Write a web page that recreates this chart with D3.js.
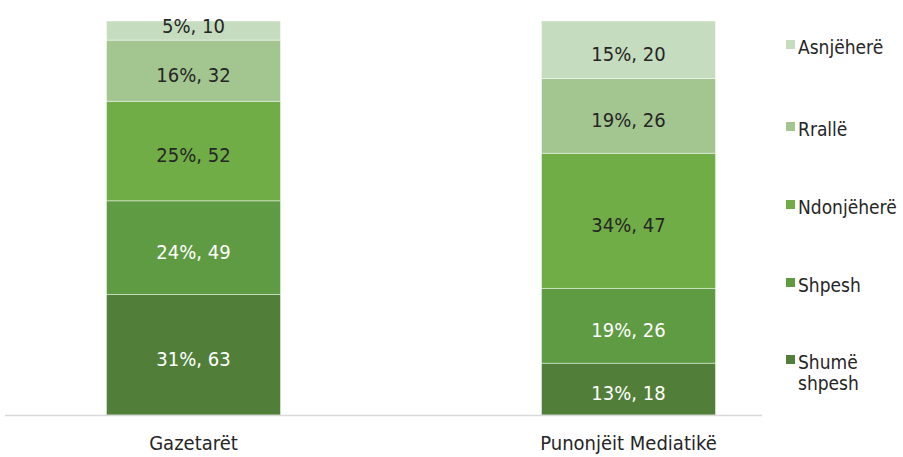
<!DOCTYPE html>
<head>
  <meta charset="utf-8">
  <style>
  body { margin: 0; background: #fff; }
  text {
    font-family: 'DejaVu Sans Condensed', 'DejaVu Sans', sans-serif;
  }
  </style>
</head>
<body>
  <svg id="chart"></svg>
  <script src="https://d3js.org/d3.v7.min.js"></script>
  <script>

  var width = 903,
      height = 457;

  // Data
  var groups = ['Gazetarët', 'Punonjëit Mediatikë'];
  var series = ['Shumë shpesh', 'Shpesh', 'Ndonjëherë', 'Rrallë', 'Asnjëherë'];
  var shumeShpesh = [63, 18];
  var shpesh = [49, 26];
  var ndonjehere = [52, 47];
  var ralle = [32, 26];
  var asnjehere = [10, 20];
  var percents = [
    ['31%', '13%'],
    ['24%', '19%'],
    ['25%', '34%'],
    ['16%', '19%'],
    ['5%', '15%']
  ];

  var values = [shumeShpesh, shpesh, ndonjehere, ralle, asnjehere];
  var colors = ['#517f39', '#5f9b42', '#70ad47', '#a3c590', '#c5dcbe'];
  var textColors = ['#fff', '#fff', '#262626', '#262626', '#262626'];

  // build table for the stack
  var table = groups.map(function(g, i) {
    var row = { group: g, total: 0 };
    series.forEach(function(s, j) {
      row[s] = values[j][i];
      row.total += values[j][i];
    });
    return row;
  });

  // normalise each bar to 100%
  var norm = table.map(function(r) {
    var o = { group: r.group };
    series.forEach(function(s) { o[s] = r[s] / r.total; });
    return o;
  });

  var stacked = d3.stack().keys(series)(norm);

  var x = d3.scaleBand()
    .domain(groups)
    .range([-24, 846])
    .paddingInner(0.6)
    .paddingOuter(0.3);

  var y = d3.scaleLinear()
    .domain([0, 1])
    .range([415, 21]);

  var svg = d3.select('#chart')
    .attr('width', width)
    .attr('height', height);

  var layer = svg.selectAll('.layer')
    .data(stacked)
    .enter().append('g')
      .attr('class', 'layer');

  layer.selectAll('rect')
    .data(function(d) { return d; })
    .enter().append('rect')
      .attr('x', function(d) { return x(d.data.group); })
      .attr('width', x.bandwidth())
      .attr('y', function(d) { return y(d[1]); })
      .attr('height', function(d) { return y(d[0]) - y(d[1]); })
      .style('fill', function(d, i, nodes) { return colors[d3.select(nodes[i].parentNode).datum().index]; })
      .style('stroke', 'rgba(255,255,255,0.45)')
      .style('stroke-width', 1);

  // Segment labels (small top segment label sits up near the bar top)
  layer.selectAll('text')
    .data(function(d) { return d.map(function(p, i) { return { p: p, i: i, k: d.index }; }); })
    .enter().append('text')
      .attr('x', function(d) { return x(d.p.data.group) + x.bandwidth() / 2; })
      .attr('y', function(d) {
        var h = y(d.p[0]) - y(d.p[1]);
        return h < 30 ? y(d.p[1]) + 1 : (y(d.p[0]) + y(d.p[1])) / 2;
      })
      .attr('dy', '0.55em')
      .attr('text-anchor', 'middle')
      .style('font-size', '20px')
      .style('fill', function(d) { return textColors[d.k]; })
      .text(function(d) { return percents[d.k][d.i] + ', ' + values[d.k][d.i]; });

  // Base axis line
  svg.append('line')
    .attr('x1', 5)
    .attr('x2', 762)
    .attr('y1', 415.5)
    .attr('y2', 415.5)
    .style('stroke', '#d9d9d9')
    .style('stroke-width', 1.5);

  // Category labels
  svg.selectAll('.cat')
    .data(groups)
    .enter().append('text')
      .attr('class', 'cat')
      .attr('x', function(d) { return x(d) + x.bandwidth() / 2; })
      .attr('y', 450)
      .attr('text-anchor', 'middle')
      .style('font-size', '20px')
      .style('fill', '#262626')
      .text(function(d) { return d; });

  // Legend
  var legendY = [360, 283, 205, 127, 45];
  var legend = svg.selectAll('.legend')
    .data(series)
    .enter().append('g')
      .attr('class', 'legend')
      .attr('transform', function(d, i) { return 'translate(786,' + legendY[i] + ')'; });

  legend.append('rect')
    .attr('x', 0)
    .attr('y', -5)
    .attr('width', 9)
    .attr('height', 9)
    .style('fill', function(d, i) { return colors[i]; });

  legend.append('text')
    .style('font-size', '19px')
    .style('fill', '#262626')
    .selectAll('tspan')
      .data(function(d) { return d === 'Shumë shpesh' ? ['Shumë', 'shpesh'] : [d]; })
      .enter().append('tspan')
        .attr('x', 12)
        .attr('dy', function(d, i) { return i === 0 ? '0.45em' : '1.15em'; })
        .text(function(d) { return d; });

  </script>
</body>
